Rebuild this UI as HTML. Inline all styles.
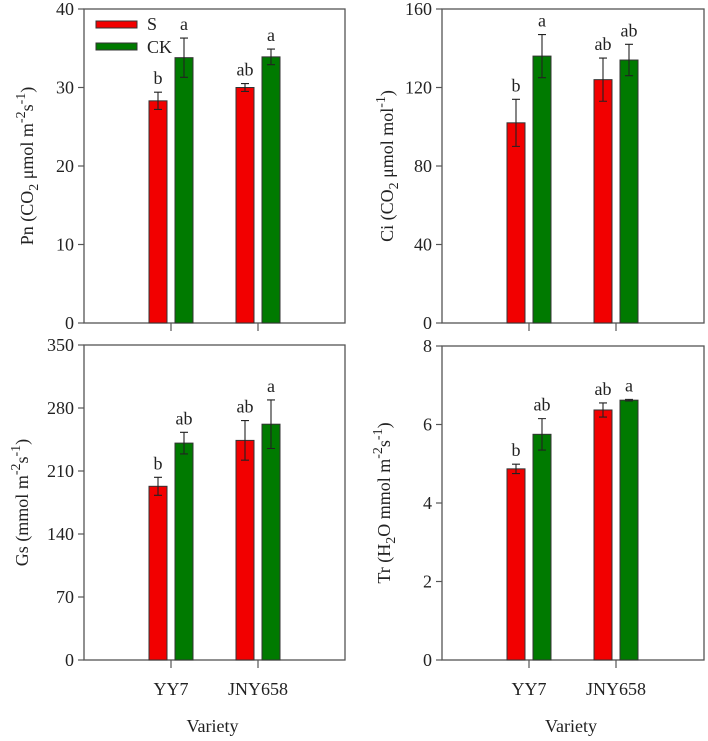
<!DOCTYPE html>
<html><head><meta charset="utf-8"><style>
html,body{margin:0;padding:0;background:#fff;}
svg, svg text{font-family:"Liberation Serif","Times New Roman",serif;}
</style></head><body>
<svg id="chart" width="708" height="736" viewBox="0 0 708 736" font-family="Liberation Serif, serif"></svg>
<script>
const categories = ["YY7", "JNY658"];
const pnS = [28.3, 30.0], pnSErr = [1.1, 0.5], pnCK = [33.8, 33.9], pnCKErr = [2.5, 1.0];
const pnLetS = ["b", "ab"], pnLetCK = ["a", "a"];
const ciS = [102, 124], ciSErr = [12, 11], ciCK = [136, 134], ciCKErr = [11, 8];
const ciLetS = ["b", "ab"], ciLetCK = ["a", "ab"];
const gsS = [193, 244], gsSErr = [10, 22], gsCK = [241, 262], gsCKErr = [12, 27];
const gsLetS = ["b", "ab"], gsLetCK = ["ab", "a"];
const trS = [4.87, 6.37], trSErr = [0.12, 0.18], trCK = [5.75, 6.62], trCKErr = [0.4, 0.02];
const trLetS = ["b", "ab"], trLetCK = ["ab", "a"];
const pnTicks = [0, 10, 20, 30, 40];
const ciTicks = [0, 40, 80, 120, 160];
const gsTicks = [0, 70, 140, 210, 280, 350];
const trTicks = [0, 2, 4, 6, 8];

const NS = "http://www.w3.org/2000/svg";
const svg = document.getElementById("chart");
const FF = "Liberation Serif, serif";
function mk(tag, attrs, parent, text) {
  const e = document.createElementNS(NS, tag);
  for (const k in attrs) e.setAttribute(k, attrs[k]);
  if (tag === "text") e.setAttribute("font-family", FF);
  if (text !== undefined) e.textContent = text;
  (parent || svg).appendChild(e);
  return e;
}

function panel(opt) {
  const g = mk("g", {});
  
  
  const {x0, x1, yTop, yBot, ticks, sv, se, cv, ce, ls, lc} = opt;
  const ymax = ticks[ticks.length - 1];
  const y = v => yBot - v / ymax * (yBot - yTop);
  const groupX = i => x0 + (i === 0 ? 87 : 174);
  mk("rect", {x: x0, y: yTop, width: x1 - x0, height: yBot - yTop, fill: "none", stroke: "#555", "stroke-width": 1.3}, g);
  ticks.forEach(t => {
    const ty = y(t);
    const tl = mk("line", {x1: x0 - 6, x2: x0, y1: ty, y2: ty, stroke: "#555", "stroke-width": 1.2}, g);
    
    
    const lbl = mk("text", {x: x0 - 10, y: ty + 6, "text-anchor": "end", "font-size": 18, fill: "#222"}, g, String(t));
    
    
  });
  categories.forEach((c, i) => {
    const gx = groupX(i);
    const xt = mk("line", {x1: gx, x2: gx, y1: yBot, y2: yBot + 8, stroke: "#555", "stroke-width": 1.2}, g);
    
    
    if (opt.bottom) {
      const xl = mk("text", {x: gx, y: yBot + 35, "text-anchor": "middle", "font-size": 18, fill: "#222"}, g, c);
      
      
    }
    [[sv, se, ls, "#f20000", -13, "bar-s-"], [cv, ce, lc, "#007a00", 13, "bar-ck-"]].forEach(([vals, errs, lets, col, off, nm]) => {
      const cx = gx + off, v = vals[i], e = errs[i];
      const b = mk("rect", {x: cx - 9, y: y(v), width: 18, height: yBot - y(v), fill: col, stroke: "#333", "stroke-width": 1}, g);
      
      
      const eb = mk("path", {d: `M${cx},${y(v + e)}V${y(v - e)}M${cx - 4},${y(v + e)}H${cx + 4}M${cx - 4},${y(v - e)}H${cx + 4}`, stroke: "#222", "stroke-width": 1.1, fill: "none"}, g);
      
      
      const lt = mk("text", {x: cx, y: y(v + e) - 8, "text-anchor": "middle", "font-size": 18, fill: "#222"}, g, lets[i]);
      
      
    });
  });
  const cy = (yTop + yBot) / 2;
  const tt = mk("text", {transform: `translate(${opt.titleX},${cy}) rotate(-90)`, "text-anchor": "middle", "font-size": 18, fill: "#222"}, g);
  tt.innerHTML = opt.title;
  
  
  if (opt.bottom) {
    const vt = mk("text", {x: (x0 + x1) / 2 - 2, y: 732, "text-anchor": "middle", "font-size": 18, fill: "#222"}, g, "Variety");
    
    
  }
  return g;
}

panel({name: "pn-panel", x0: 84, x1: 345, yTop: 9, yBot: 323, ticks: pnTicks, sv: pnS, se: pnSErr, cv: pnCK, ce: pnCKErr, ls: pnLetS, lc: pnLetCK, titleX: 33,
  title: 'Pn (CO<tspan dy="5" font-size="14">2</tspan><tspan dy="-5"> μmol m</tspan><tspan dy="-8" font-size="14">-2</tspan><tspan dy="8">s</tspan><tspan dy="-8" font-size="14">-1</tspan><tspan dy="8">)</tspan>'});
panel({name: "ci-panel", x0: 442, x1: 704, yTop: 9, yBot: 323, ticks: ciTicks, sv: ciS, se: ciSErr, cv: ciCK, ce: ciCKErr, ls: ciLetS, lc: ciLetCK, titleX: 393,
  title: 'Ci (CO<tspan dy="5" font-size="14">2</tspan><tspan dy="-5"> μmol mol</tspan><tspan dy="-8" font-size="14">-1</tspan><tspan dy="8">)</tspan>'});
panel({name: "gs-panel", x0: 84, x1: 345, yTop: 345, yBot: 660, ticks: gsTicks, sv: gsS, se: gsSErr, cv: gsCK, ce: gsCKErr, ls: gsLetS, lc: gsLetCK, titleX: 28, bottom: true,
  title: 'Gs (mmol m<tspan dy="-8" font-size="14">-2</tspan><tspan dy="8">s</tspan><tspan dy="-8" font-size="14">-1</tspan><tspan dy="8">)</tspan>'});
panel({name: "tr-panel", x0: 442, x1: 704, yTop: 346, yBot: 660, ticks: trTicks, sv: trS, se: trSErr, cv: trCK, ce: trCKErr, ls: trLetS, lc: trLetCK, titleX: 390, bottom: true,
  title: 'Tr (H<tspan dy="5" font-size="14">2</tspan><tspan dy="-5">O mmol m</tspan><tspan dy="-8" font-size="14">-2</tspan><tspan dy="8">s</tspan><tspan dy="-8" font-size="14">-1</tspan><tspan dy="8">)</tspan>'});

const lg = mk("g", {});


const l1 = mk("rect", {x: 96, y: 21, width: 41, height: 7, fill: "#f20000", stroke: "#333", "stroke-width": 1}, lg);


const t1 = mk("text", {x: 147, y: 30, "font-size": 18, fill: "#222"}, lg, "S");


const l2 = mk("rect", {x: 96, y: 43, width: 41, height: 7, fill: "#007a00", stroke: "#333", "stroke-width": 1}, lg);


const t2 = mk("text", {x: 147, y: 53, "font-size": 18, fill: "#222"}, lg, "CK");


</script>
</body></html>
